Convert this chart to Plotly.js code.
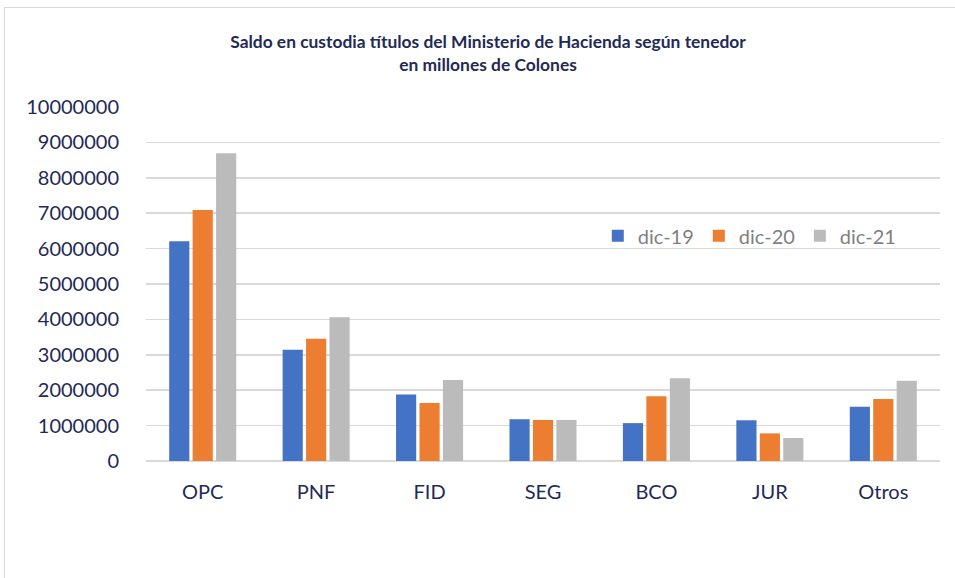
<!DOCTYPE html>
<html><head><meta charset="utf-8">
<script src="https://cdn.plot.ly/plotly-3.0.1.min.js"></script>
<style>
html,body{margin:0;padding:0;background:#fff;overflow:hidden;}
#frame{position:absolute;left:4px;top:7px;width:1000px;height:600px;border:1px solid #d9d9d9;box-sizing:border-box;}
#chart{position:absolute;left:0;top:0;width:955px;height:578px;}
</style></head>
<body>
<div id="frame"></div>
<div id="chart"></div>
<script>
const categories = ["OPC","PNF","FID","SEG","BCO","JUR","Otros"];
const seriesNames = ["dic-19","dic-20","dic-21"];
const dic19 = [6210000, 3140000, 1880000, 1180000, 1070000, 1150000, 1530000];
const dic20 = [7090000, 3450000, 1640000, 1160000, 1830000, 780000, 1750000];
const dic21 = [8690000, 4060000, 2290000, 1160000, 2340000, 650000, 2270000];
const colors = ["#4472C4","#ED7D31","#BBBBBB"];
const values = [dic19, dic20, dic21];

const textColor = "#1F2A55";
const traces = values.map((v,i)=>({
  type:"bar", x:categories, y:v, name:seriesNames[i],
  marker:{color:colors[i]}, hoverinfo:"none"
}));

const layout = {
  width:955, height:578,
  paper_bgcolor:"rgba(0,0,0,0)", plot_bgcolor:"rgba(0,0,0,0)",
  margin:{l:146, r:15, t:107, b:117},
  font:{family:"Lato, 'Open Sans', sans-serif", color:textColor},
  title:{text:"<b>Saldo en custodia títulos del Ministerio de Hacienda según tenedor<br>en millones de Colones</b>",
    x:0.511, xanchor:"center", y:0.917, yanchor:"top",
    font:{size:17.4, color:textColor, family:"Lato, sans-serif"}},
  barmode:"group", bargap:0.38, bargroupgap:0.14,
  xaxis:{type:"category", showgrid:false, showline:false, zeroline:false,
    ticks:"outside", ticklen:13, tickcolor:"rgba(0,0,0,0)",
    tickfont:{size:20, color:textColor}},
  yaxis:{range:[0,10000000], dtick:1000000, tickformat:"d",
    showgrid:true, gridcolor:"#d9d9d9", gridwidth:1.5,
    zeroline:true, zerolinecolor:"#d9d9d9", zerolinewidth:1.5,
    ticks:"outside", ticklen:22, tickcolor:"rgba(0,0,0,0)",
    tickfont:{size:20, color:textColor}},
  legend:{orientation:"h", x:0.569, xanchor:"left", y:0.636, yanchor:"middle",
    font:{size:20, color:"#7F7F7F"}, bgcolor:"rgba(0,0,0,0)",
    itemwidth:30, traceorder:"normal"},
  showlegend:true
};
Plotly.newPlot("chart", traces, layout, {staticPlot:true, displayModeBar:false});
</script>
</body></html>
